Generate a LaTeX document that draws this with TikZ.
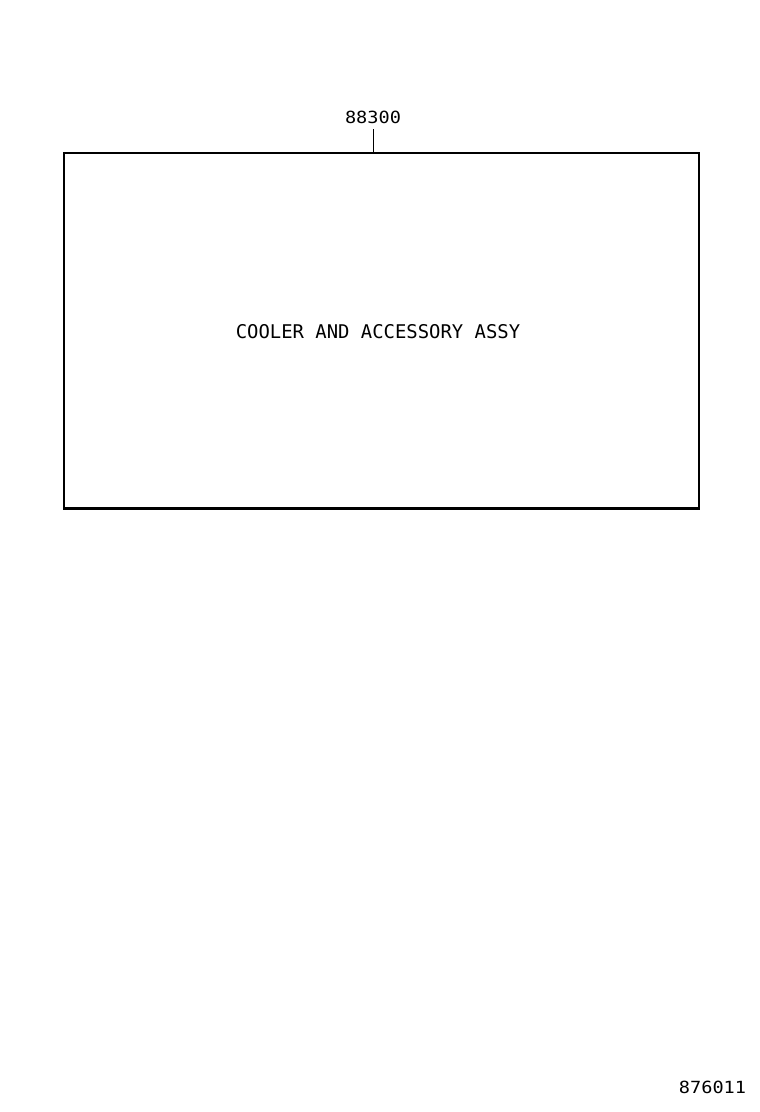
\documentclass[tikz,border=0pt]{standalone}
\usepackage{fontspec}
\usepackage{graphicx}
\setmainfont{DejaVu Sans Mono}
\begin{document}
\begin{tikzpicture}[x=1pt,y=-1pt,
  frame/.style={draw=black,line width=1.5pt,minimum width=635pt,minimum height=355pt,inner sep=0pt},
  txt/.style={inner sep=0pt,font=\fontsize{18.9}{20}\selectfont},
  num/.style={inner sep=0pt,font=\fontsize{18.6}{20}\selectfont},
  leader/.style={line width=1pt}]
\useasboundingbox (0,0) rectangle (760,1112);
\node[frame] (box) at (381.5,330.5) {};
\draw[line width=3pt] (box.south west) -- (box.south east);
\node[txt] (title) at (378,332) {COOLER AND ACCESSORY ASSY};
\node[num] (part) at (373,117) {\scalebox{1}[0.9]{88300}};
\draw[leader] (373,129) coordinate (lt) -- (lt |- box.north);
\node[num] (fig) at (712.5,1087.5) {\scalebox{1}[0.9]{876011}};
\end{tikzpicture}
\end{document}
